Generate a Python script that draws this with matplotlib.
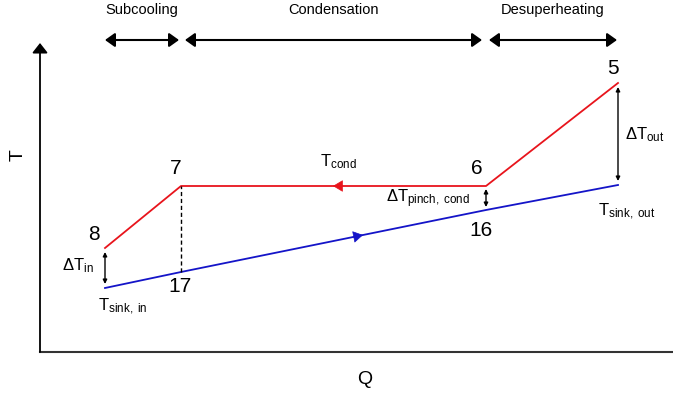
import numpy as np
import matplotlib
matplotlib.use('Agg')
import matplotlib.pyplot as plt

plt.rcParams['font.family'] = ['Liberation Sans', 'DejaVu Sans']
plt.rcParams['mathtext.fontset'] = 'custom'
plt.rcParams['mathtext.rm'] = 'Liberation Sans'
plt.rcParams['mathtext.it'] = 'Liberation Sans'

# schematic T-Q diagram (arbitrary units)
Q = [65, 141, 446, 578]            # 8/17, 7/17, 6/16, 5/sink out
T_ref = [104, 166, 166, 269]       # refrigerant: 8, 7, 6, 5
T_sink = [64, 80, 142, 167]        # sink: in, 17, 16, out
ref_labels = ['8', '7', '6', '5']
zones = ['Subcooling', 'Condensation', 'Desuperheating']

fig = plt.figure(figsize=(6.73, 3.96), dpi=100)
ax = fig.add_axes([0, 0, 1, 1])
ax.set_xlim(-40, 633)
ax.set_ylim(-44, 352)
ax.axis('off')

# axes
ax.plot([0, 633], [0, 0], color='#333333', lw=1.5)
ax.annotate('', xy=(0, 309), xytext=(0, 0),
            arrowprops=dict(arrowstyle='-|>,head_length=0.42,head_width=0.33', color='black',
                            lw=1.3, mutation_scale=14, shrinkA=0, shrinkB=0))
ax.text(-22, 197, 'T', fontsize=14, rotation=90, ha='center', va='center')
ax.text(325, -28, 'Q', fontsize=14, ha='center', va='center')

# lines
ax.plot(Q, T_ref, color='#e8141c', lw=1.3)
ax.plot(Q, T_sink, color='#1414c8', lw=1.3)
ax.plot([Q[1], Q[1]], [T_sink[1], T_ref[1]], color='black', lw=1, ls=(0, (3, 2)))

# flow direction arrows
head = '-|>,head_length=0.45,head_width=0.27'
qa = 293
ax.annotate('', xy=(qa, T_ref[1]), xytext=(qa + 10, T_ref[1]),
            arrowprops=dict(arrowstyle=head, color='#e8141c', lw=0.5, mutation_scale=14,
                            shrinkA=0, shrinkB=0))
qb = 323
tb = np.interp([qb - 10, qb], Q, T_sink)
ax.annotate('', xy=(qb, tb[1]), xytext=(qb - 10, tb[0]),
            arrowprops=dict(arrowstyle=head, color='#1414c8', lw=0.5, mutation_scale=14,
                            shrinkA=0, shrinkB=0))

# zone arrows on top
spans = [(Q[0], Q[1] - 2), (Q[1] + 4, Q[2] - 4), (Q[2] + 3, Q[3] - 1)]
for (a, b), name in zip(spans, zones):
    ax.annotate('', xy=(b, 312), xytext=(a, 312),
                arrowprops=dict(arrowstyle='<|-|>,head_length=0.42,head_width=0.3', color='black',
                                lw=1.5, mutation_scale=14, shrinkA=0, shrinkB=0))
    ax.text((a + b) / 2, 342, name, fontsize=10.5, ha='center', va='center')

# delta T arrows
for q, lo, hi in [(Q[0], T_sink[0] + 4, T_ref[0] - 4),
                  (Q[2], T_sink[2] + 3, T_ref[2] - 3),
                  (Q[3], T_sink[3] + 4, T_ref[3] - 4)]:
    ax.annotate('', xy=(q, hi), xytext=(q, lo),
                arrowprops=dict(arrowstyle='<|-|>', color='black', lw=1, mutation_scale=6,
                                shrinkA=0, shrinkB=0))

# point labels
ax.text(Q[0] - 11, T_ref[0] + 13, ref_labels[0], fontsize=15, ha='center', va='center')
ax.text(Q[1] - 5, T_ref[1] + 17, ref_labels[1], fontsize=15, ha='center', va='center')
ax.text(Q[2] - 9, T_ref[2] + 17, ref_labels[2], fontsize=15, ha='center', va='center')
ax.text(Q[3] - 5, T_ref[3] + 14, ref_labels[3], fontsize=15, ha='center', va='center')
ax.text(Q[1] - 1, T_sink[1] - 15, '17', fontsize=15, ha='center', va='center')
ax.text(Q[2] - 5, T_sink[2] - 20, '16', fontsize=15, ha='center', va='center')

# text annotations
ax.text(280, 190, r'$\mathregular{T_{cond}}$', fontsize=12, ha='left', va='center')
ax.text(346, 153, r'$\mathregular{\Delta T_{pinch,\ cond}}$', fontsize=12, ha='left', va='center')
ax.text(585, 217, r'$\mathregular{\Delta T_{out}}$', fontsize=12, ha='left', va='center')
ax.text(22, 86, r'$\mathregular{\Delta T_{in}}$', fontsize=12, ha='left', va='center')
ax.text(58, 45, r'$\mathregular{T_{sink,\ in}}$', fontsize=12, ha='left', va='center')
ax.text(558, 140, r'$\mathregular{T_{sink,\ out}}$', fontsize=12, ha='left', va='center')

fig.savefig('out.png', dpi=100)
